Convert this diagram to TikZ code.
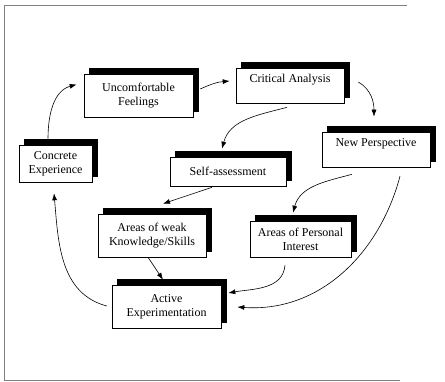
\documentclass[tikz,border=0pt]{standalone}
\usepackage{fontspec}
\setmainfont{Liberation Serif}
\usetikzlibrary{shadows,arrows.meta}

\begin{document}
\begin{tikzpicture}[->,
>={Latex[length=7pt,width=5pt]},
semithick,
x=1pt, y=1pt,
block/.style={draw, fill=white, rectangle, inner sep=0pt, align=center,
  font=\fontsize{12}{14}\selectfont,
  copy shadow={shadow xshift=5.5pt, shadow yshift=5.5pt, fill=black, draw=black}}]

\useasboundingbox (0,0) rectangle (445,-382);
\draw[-, gray, thin] (407,-5) -- (4.5,-5) -- (4.5,-380) -- (400,-380);

\node[block, minimum width=73pt, minimum height=37pt]	(conc) at (55.5,-163.5)	{Concrete\\Experience};
\node[block, minimum width=109pt, minimum height=43pt]	(unc) at (138.5,-95.5)	{Uncomfortable\\Feelings};
\node[block, minimum width=108pt, minimum height=35pt, text height=8pt, text depth=14pt]	(crit) at (290,-85.5)	{Critical Analysis};
\node[block, minimum width=108pt, minimum height=35pt, text height=8pt, text depth=14pt]	(newp) at (376,-149.5)	{New Perspective};
\node[block, minimum width=116pt, minimum height=29pt]	(self) at (228,-171.5)	{Self-assessment};
\node[block, minimum width=108pt, minimum height=43pt]	(weak) at (152,-235.5)	{Areas of weak\\Knowledge/Skills};
\node[block, minimum width=101pt, minimum height=36pt]	(pers) at (300.5,-239)	{Areas of Personal\\Interest};
\node[block, minimum width=109pt, minimum height=43pt]	(act) at (166.5,-306.5)	{Active\\Experimentation};

\path[->]
 ([xshift=-7.5pt,yshift=6pt]conc.north) edge[out=90, in=195] ([xshift=-7pt,yshift=11pt]unc.west)
 ([xshift=7pt,yshift=6.5pt]unc.east) edge[out=25, in=185] ([xshift=-6pt,yshift=4.5pt]crit.west)
 ([xshift=14pt,yshift=3.5pt]crit.east) edge[out=-30, in=90] ([xshift=-2pt,yshift=15pt]newp.north)
 ([xshift=-3pt,yshift=-4pt]crit.south) edge[out=195, in=75] ([xshift=-6pt,yshift=8pt]self.north)
 ([xshift=-16pt,yshift=-1pt]self.south) edge ([xshift=11pt,yshift=10pt]weak.north)
 ([xshift=-24pt,yshift=-7pt]newp.south) edge[out=195, in=75] ([xshift=-7.5pt,yshift=8pt]pers.north)
 ([xshift=24pt,yshift=-9pt]newp.south) edge[out=-105, in=-4] ([xshift=16pt,yshift=-0.5pt]act.east)
 ([xshift=-4pt]weak.south) edge ([xshift=-3.5pt,yshift=5pt]act.north)
 ([xshift=-15.5pt,yshift=-8pt]pers.south) edge[out=-95, in=10] ([xshift=7pt,yshift=13.5pt]act.east)
 ([xshift=-5pt,yshift=0.5pt]act.west) edge[out=165, in=-85] ([xshift=-1.5pt,yshift=-11pt]conc.south);

\end{tikzpicture}
\end{document}
